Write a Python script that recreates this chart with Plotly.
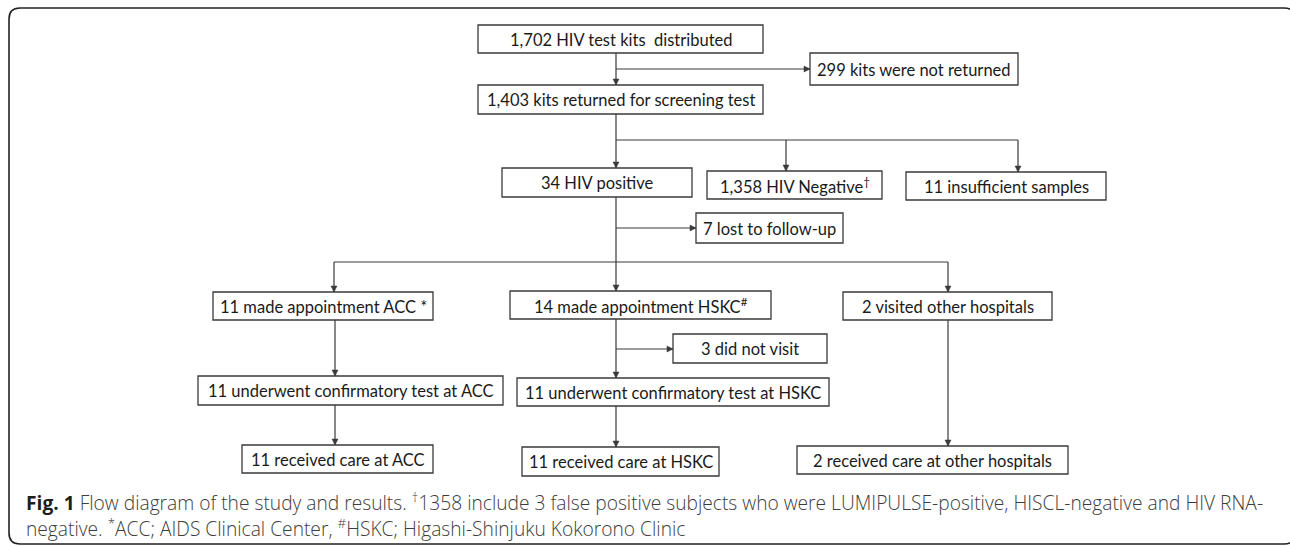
import plotly.graph_objects as go

# ---- data: counts and box labels ----
counts = [1702, 299, 1403, 34, 1358, 11, 7, 11, 14, 2, 3, 11, 11, 11, 11, 2]
label_tpl = [
    "{} HIV test kits  distributed",
    "{} kits were not returned",
    "{} kits returned for screening test",
    "{} HIV positive",
    "{} HIV Negative<sup>†</sup>",
    "{} insufficient samples",
    "{} lost to follow-up",
    "{} made appointment ACC *",
    "{} made appointment HSKC<sup>#</sup>",
    "{} visited other hospitals",
    "{} did not visit",
    "{} underwent confirmatory test at ACC",
    "{} underwent confirmatory test at HSKC",
    "{} received care at ACC",
    "{} received care at HSKC",
    "{} received care at other hospitals",
]
caption_1 = ("<b style='color:#1e1e1e'>Fig. 1</b> Flow diagram of the study and results. <sup>†</sup>1358 include 3 false positive "
             "subjects who were LUMIPULSE-positive, HISCL-negative and HIV RNA-")
caption_2 = "negative. <sup>*</sup>ACC; AIDS Clinical Center, <sup>#</sup>HSKC; Higashi-Shinjuku Kokorono Clinic"

# ---- layout geometry (pixels) ----
boxes = [
    (478, 763, 25, 53),
    (810, 1018, 53, 85),
    (478, 763, 85, 114),
    (502, 692, 168, 197),
    (707, 882, 171, 199),
    (906, 1106, 172, 200),
    (696, 843, 213, 243),
    (213, 433, 292, 320),
    (510, 771, 291, 319),
    (843, 1052, 292, 320),
    (673, 827, 334, 363),
    (198, 503, 376, 405),
    (517, 829, 378, 406),
    (242, 433, 445, 473),
    (522, 719, 447, 476),
    (797, 1068, 446, 474),
]
plain = [
    ((616, 140), (1018, 140)),
    ((334, 262), (948, 262)),
]
arrows = [
    ((616, 53), (616, 85)),
    ((616, 69), (810, 69)),
    ((616, 114), (616, 168)),
    ((786, 140), (786, 171)),
    ((1018, 140), (1018, 172)),
    ((616, 197), (616, 291)),
    ((616, 228), (696, 228)),
    ((334, 262), (334, 292)),
    ((948, 262), (948, 292)),
    ((335, 320), (335, 376)),
    ((616, 319), (616, 378)),
    ((616, 349), (673, 349)),
    ((335, 405), (335, 445)),
    ((616, 406), (616, 447)),
    ((948, 320), (948, 446)),
]

W, H = 1290, 546
LINE = "#3a3a3a"
BOX_FONT = dict(family="Lato, sans-serif", size=16.5, color="#1a1a1a")
CAP_FONT = dict(family="Open Sans, sans-serif", size=19.2, color="#3c3c3c", weight=300)

shapes = []
annotations = []

# outer rounded frame
r = 11
x0, y0, x1, y1 = 9, 8, 1295, 544
frame = (f"M {x0+r},{y0} L {x1-r},{y0} Q {x1},{y0} {x1},{y0+r} L {x1},{y1-r} Q {x1},{y1} {x1-r},{y1} "
         f"L {x0+r},{y1} Q {x0},{y1} {x0},{y1-r} L {x0},{y0+r} Q {x0},{y0} {x0+r},{y0} Z")
shapes.append(dict(type="path", path=frame, xref="x", yref="y", line=dict(color="#222", width=1.6)))

for (bx0, bx1, by0, by1), c, tpl in zip(boxes, counts, label_tpl):
    shapes.append(dict(type="rect", xref="x", yref="y", x0=bx0, x1=bx1, y0=by0, y1=by1,
                       line=dict(color=LINE, width=1.3), fillcolor="white"))
    annotations.append(dict(x=(bx0 + bx1) / 2, y=(by0 + by1) / 2 + 0.5, xref="x", yref="y",
                            text=tpl.format(f"{c:,}"), showarrow=False, font=BOX_FONT,
                            xanchor="center", yanchor="middle"))

for (a, b) in plain:
    shapes.append(dict(type="line", xref="x", yref="y", x0=a[0], y0=a[1], x1=b[0], y1=b[1],
                       line=dict(color=LINE, width=1.2)))

HL, HW = 6, 3  # arrowhead length / half-width
for (a, b) in arrows:
    shapes.append(dict(type="line", xref="x", yref="y", x0=a[0], y0=a[1], x1=b[0], y1=b[1],
                       line=dict(color=LINE, width=1.2)))
    dx, dy = b[0] - a[0], b[1] - a[1]
    n = (dx * dx + dy * dy) ** 0.5
    ux, uy = dx / n, dy / n
    bx, by = b[0] - ux * HL, b[1] - uy * HL
    px, py = -uy * HW, ux * HW
    tri = f"M {b[0]},{b[1]} L {bx+px},{by+py} L {bx-px},{by-py} Z"
    shapes.append(dict(type="path", path=tri, xref="x", yref="y", fillcolor=LINE,
                       line=dict(color=LINE, width=0.5)))

annotations.append(dict(x=24, y=502, xref="x", yref="y", text=caption_1, showarrow=False,
                        font=CAP_FONT, xanchor="left", yanchor="middle"))
annotations.append(dict(x=24, y=528, xref="x", yref="y", text=caption_2, showarrow=False,
                        font=CAP_FONT, xanchor="left", yanchor="middle"))

fig = go.Figure()
fig.update_layout(
    width=W, height=H, margin=dict(l=0, r=0, t=0, b=0),
    paper_bgcolor="white", plot_bgcolor="white",
    xaxis=dict(range=[0, W], visible=False, fixedrange=True),
    yaxis=dict(range=[H, 0], visible=False, fixedrange=True),
    shapes=shapes, annotations=annotations, showlegend=False,
)
fig.write_html("out.html", config={"displayModeBar": False},
               post_script="document.body.style.margin='0';document.body.style.overflow='hidden';")
